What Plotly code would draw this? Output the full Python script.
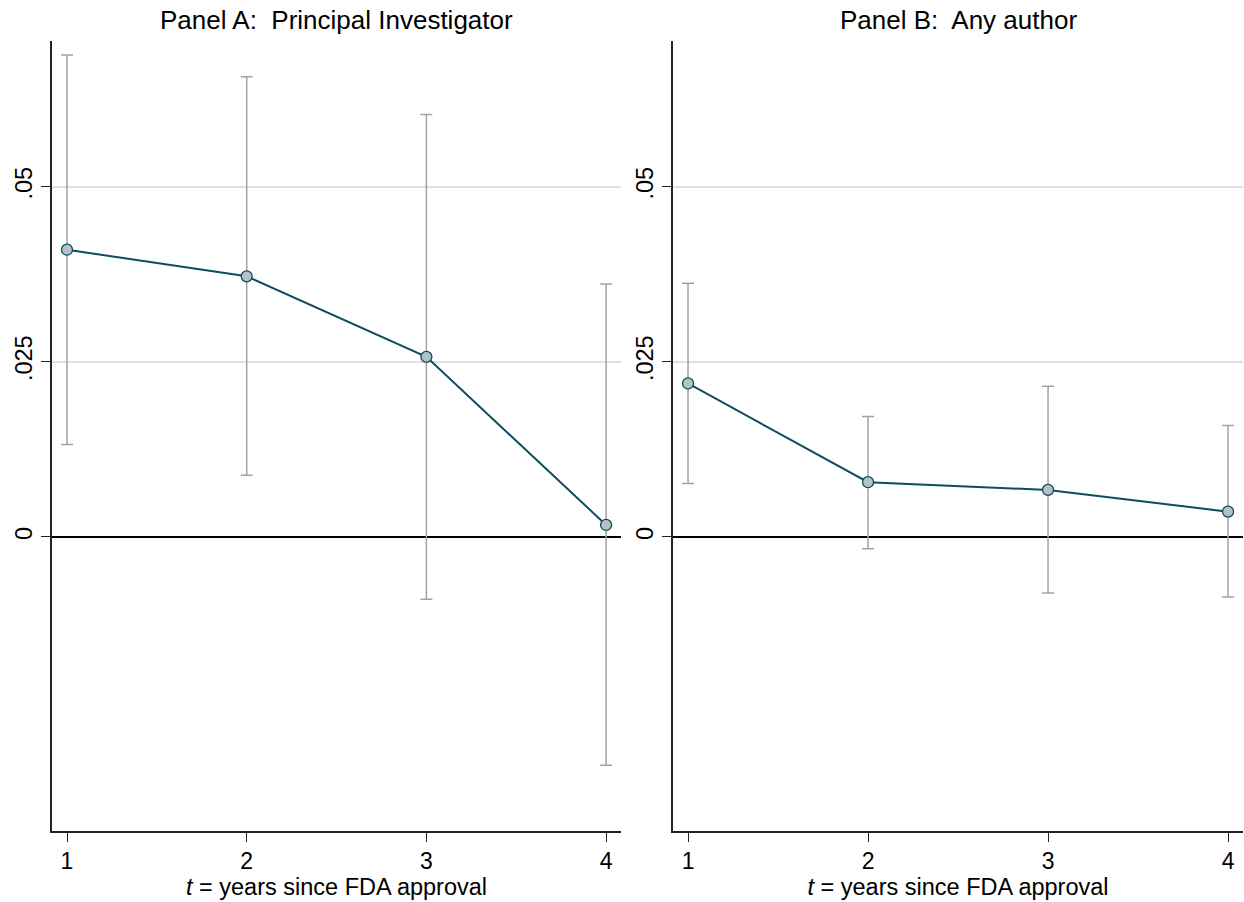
import plotly.graph_objects as go

# ---- data ----
years = [1, 2, 3, 4]
year_labels = ["1", "2", "3", "4"]

pi_coef = [0.0410, 0.0372, 0.0257, 0.0017]
pi_lo = [0.0132, 0.0088, -0.0089, -0.0326]
pi_hi = [0.0688, 0.0657, 0.0603, 0.0361]

any_coef = [0.0219, 0.0078, 0.0067, 0.0036]
any_lo = [0.0076, -0.0017, -0.0080, -0.0086]
any_hi = [0.0362, 0.0172, 0.0215, 0.0159]

y_ticks = [0, 0.025, 0.05]
y_tick_labels = ["0", ".025", ".05"]

panel_titles = ["Panel A:  Principal Investigator", "Panel B:  Any author"]
x_title = "<i>t</i> = years since FDA approval"

# ---- style ----
FONT = "Liberation Sans, Arial, sans-serif"
LINE_COLOR = "#0f4c5f"
MARKER_FILL = "#b4c1c6"
CI_COLOR = "#a3a3a3"
W, H = 1244, 902

fig = go.Figure()

panels = [
    (pi_coef, pi_lo, pi_hi, "x", "y"),
    (any_coef, any_lo, any_hi, "x2", "y2"),
]
for coef, lo, hi, xa, ya in panels:
    up = [h - c for h, c in zip(hi, coef)]
    down = [c - l for c, l in zip(coef, lo)]
    fig.add_trace(go.Scatter(
        x=years, y=coef, xaxis=xa, yaxis=ya, mode="markers",
        marker=dict(size=1, color="rgba(0,0,0,0)"),
        error_y=dict(type="data", symmetric=False, array=up, arrayminus=down,
                     color=CI_COLOR, thickness=1.5, width=6),
        showlegend=False, hoverinfo="skip",
    ))
    fig.add_trace(go.Scatter(
        x=years, y=coef, xaxis=xa, yaxis=ya, mode="lines+markers",
        line=dict(color=LINE_COLOR, width=2),
        marker=dict(size=11, color=MARKER_FILL, line=dict(color=LINE_COLOR, width=1.3)),
        showlegend=False,
    ))

xdomA = [52 / W, 621 / W]
xdomB = [673 / W, 1243 / W]
ydom = [1 - 831 / H, 1 - 41 / H]
xrange = [0.9165, 4.083]
yrange = [-0.0420, 0.0708]

xaxis_common = dict(
    range=xrange, tickvals=years, ticktext=year_labels,
    showgrid=False, zeroline=False, showline=True, linecolor="#222222", linewidth=1.5,
    ticks="outside", ticklen=9, tickwidth=1.3, tickcolor="#222222",
    tickfont=dict(family=FONT, size=23, color="#000000"),
    title=dict(text=x_title, font=dict(family=FONT, size=23.5, color="#000000"), standoff=4),
    fixedrange=True,
)
yaxis_common = dict(
    range=yrange, tickvals=y_ticks, ticktext=y_tick_labels, tickangle=-90,
    showgrid=True, gridcolor="#e0e0e0", gridwidth=1.6,
    zeroline=True, zerolinecolor="#000000", zerolinewidth=2.2,
    showline=True, linecolor="#222222", linewidth=1.5,
    ticks="outside", ticklen=9, tickwidth=1.3, tickcolor="#222222",
    tickfont=dict(family=FONT, size=23.5, color="#000000"),
    fixedrange=True,
)

fig.update_layout(
    width=W, height=H,
    margin=dict(l=0, r=0, t=0, b=0),
    paper_bgcolor="white", plot_bgcolor="white",
    font=dict(family=FONT, color="#000000"),
    xaxis=dict(domain=xdomA, anchor="y", **xaxis_common),
    yaxis=dict(domain=ydom, anchor="x", **yaxis_common),
    xaxis2=dict(domain=xdomB, anchor="y2", **xaxis_common),
    yaxis2=dict(domain=ydom, anchor="x2", **yaxis_common),
    annotations=[
        dict(text=panel_titles[0], xref="paper", yref="paper",
             x=(xdomA[0] + xdomA[1]) / 2, y=1 - 20 / H, xanchor="center", yanchor="middle",
             showarrow=False, font=dict(family=FONT, size=26, color="#000000")),
        dict(text=panel_titles[1], xref="paper", yref="paper",
             x=(xdomB[0] + xdomB[1]) / 2, y=1 - 20 / H, xanchor="center", yanchor="middle",
             showarrow=False, font=dict(family=FONT, size=26, color="#000000")),
    ],
)

fig.write_html("out.html",
               config={"displayModeBar": False},
               post_script="document.body.style.margin='0';document.body.style.overflow='hidden';")
